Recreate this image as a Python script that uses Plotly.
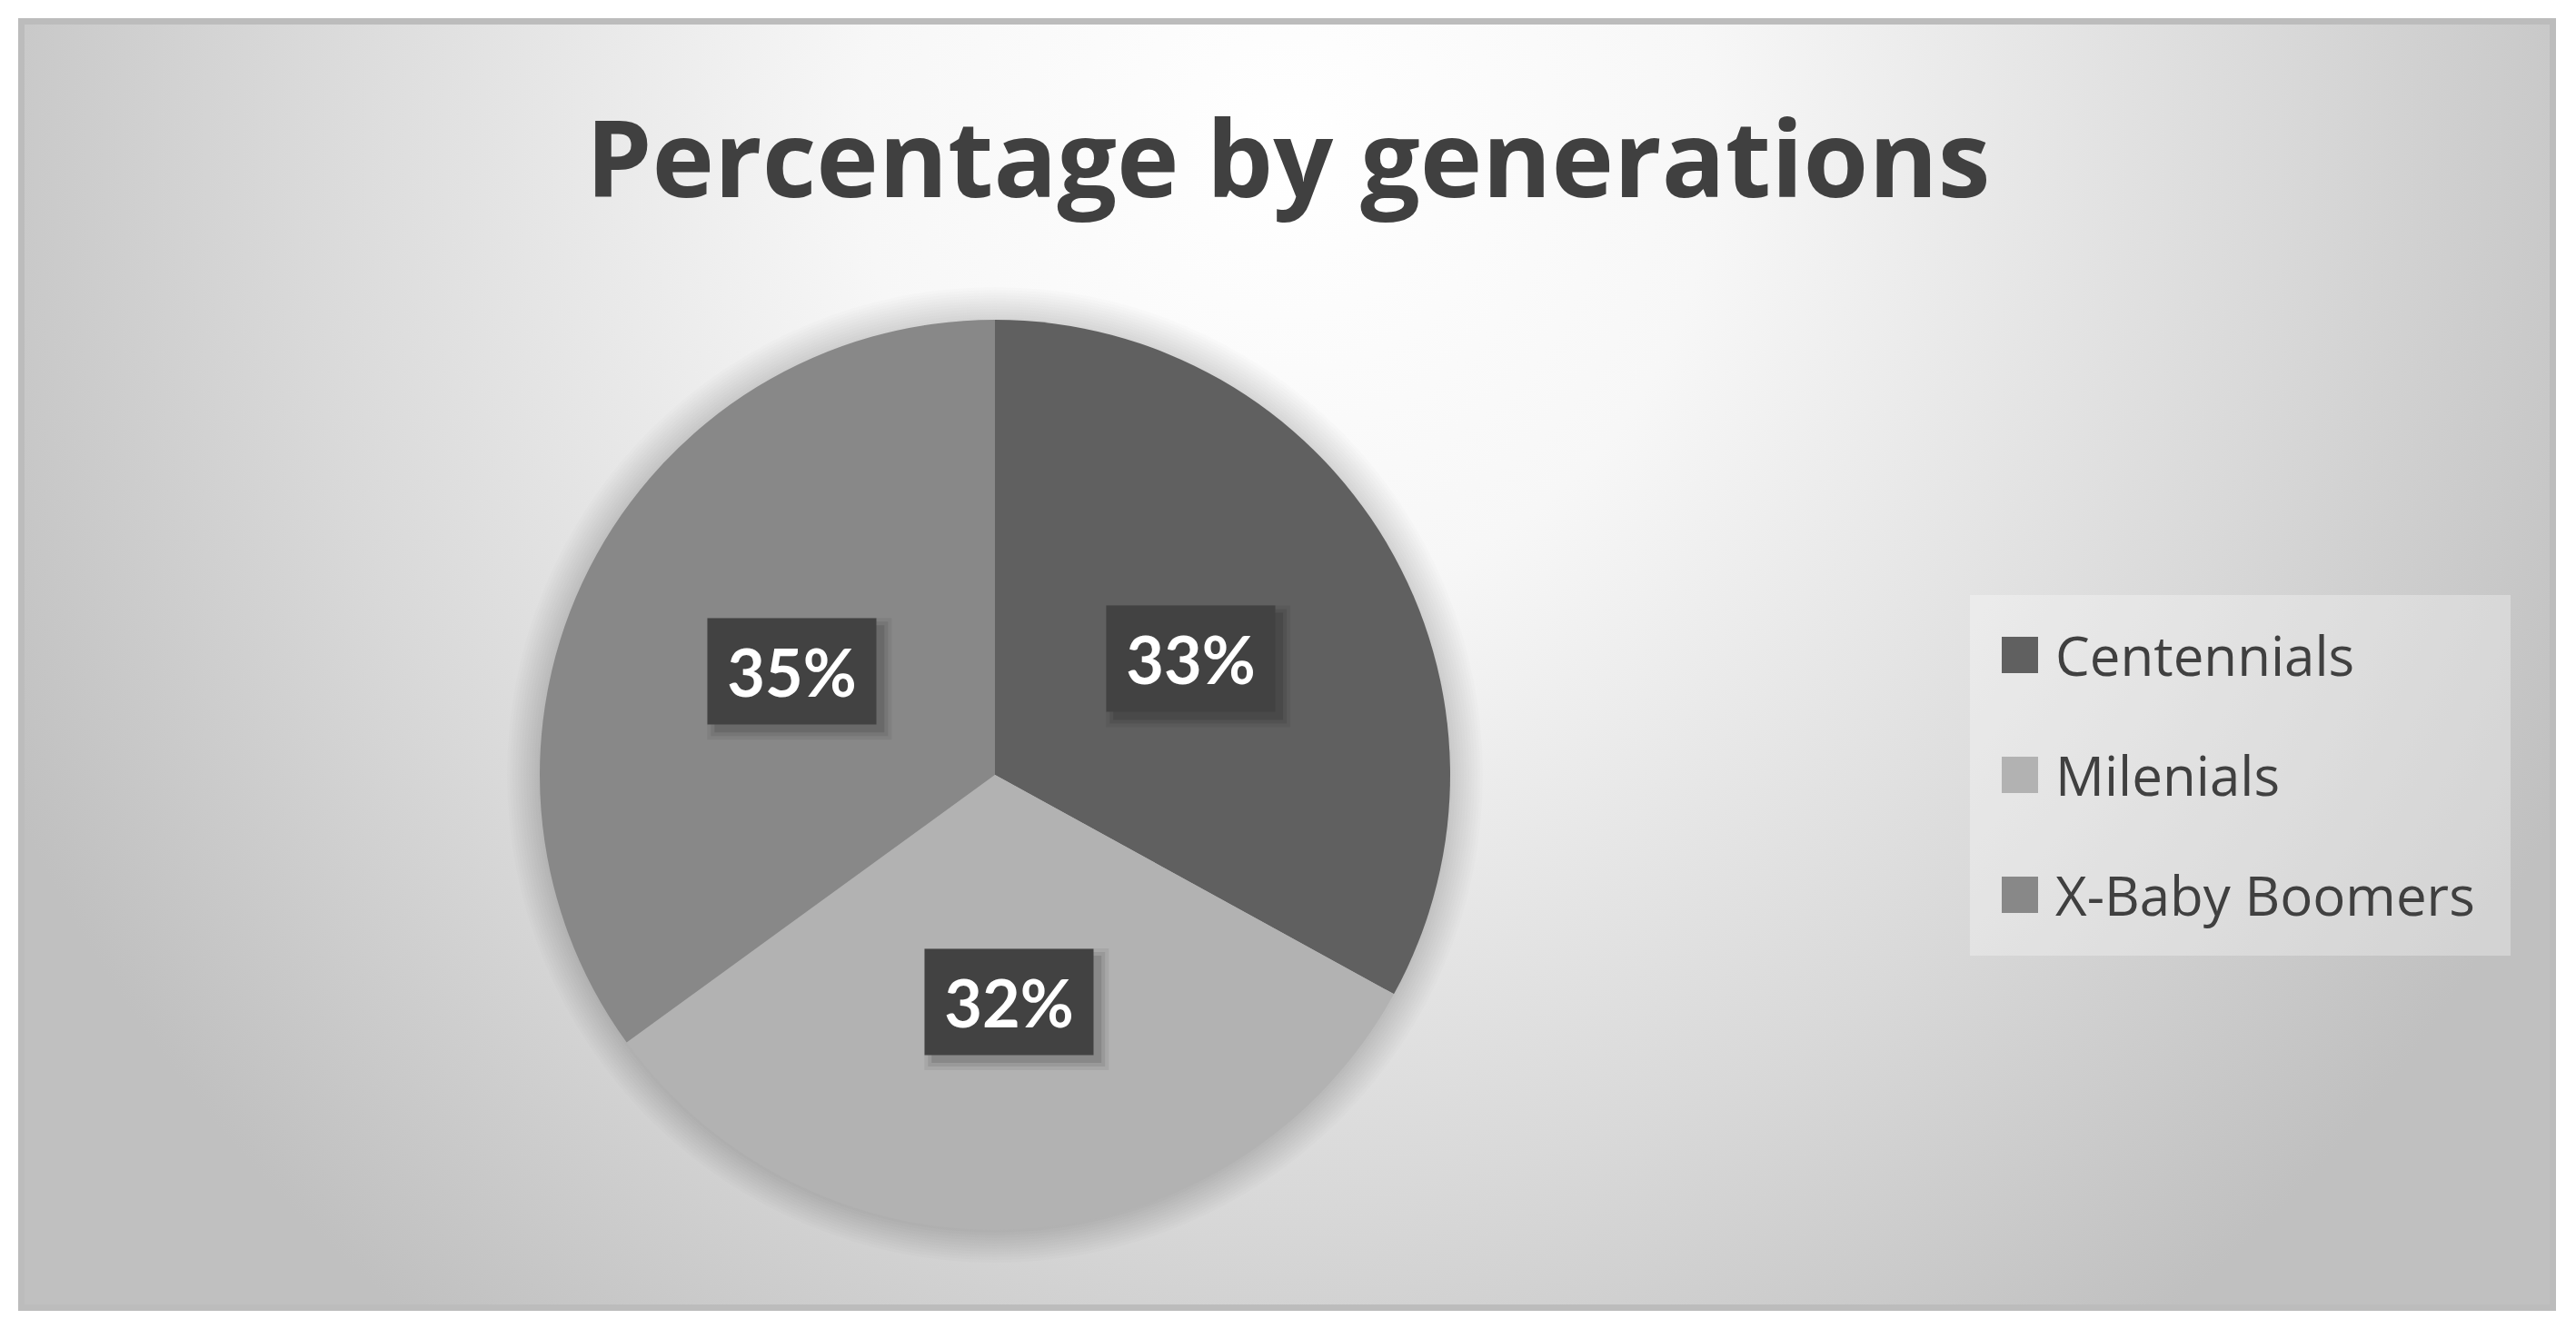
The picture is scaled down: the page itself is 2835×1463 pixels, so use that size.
"""Pie chart: percentage by generations (grey Office-style look)."""

import math
import plotly.graph_objects as go

# ---- data -------------------------------------------------------------
generations = ["Centennials", "Milenials", "X-Baby Boomers"]
shares = [33, 32, 35]
slice_colors = ["#606060", "#b2b2b2", "#888888"]

TITLE = "Percentage by generations"

# ---- page geometry (px) ------------------------------------------------
W, H = 2835, 1463
FRAME = (20, 20, 2813, 1443)          # left, top, right, bottom
PIE_CX, PIE_CY, PIE_R = 1095, 853, 501
LABEL_BOX = (185, 116)
LEGEND_BOX = (2168, 655, 2763, 1052)
LEGEND_SYMBOL_X, LEGEND_TEXT_X = 2203, 2260
LEGEND_ROW0, LEGEND_STEP, LEGEND_SYMBOL = 721, 132, 40

TEXT_DARK = "#404040"
LABEL_FONT = "Lato, 'Open Sans', sans-serif"
TEXT_FONT = "'Open Sans', Lato, sans-serif"


def px_x(px):
    return px / W


def px_y(py):
    return 1 - py / H


fig = go.Figure()

# background: radial grey gradient filling the frame, bright at top centre
fig.add_trace(go.Scatter(
    x=[-0.06, 1.06, 1.06, -0.06, -0.06],
    y=[-0.25, -0.25, 2.05, 2.05, -0.25],
    mode="lines",
    fill="toself",
    line=dict(width=0),
    fillgradient=dict(
        type="radial",
        colorscale=[[0, "#ffffff"], [0.3, "#f7f7f7"], [0.7, "#d9d9d9"], [1, "#c0c0c0"]],
    ),
    hoverinfo="skip",
    showlegend=False,
))

# soft shadow round the pie: stacked translucent discs
for k in range(12, 0, -1):
    r = PIE_R + 3 * k
    fig.add_trace(go.Pie(
        labels=["shadow"],
        values=[sum(shares)],
        marker=dict(colors=["rgba(0,0,0,0.013)"], line=dict(width=0)),
        textinfo="none",
        hoverinfo="skip",
        showlegend=False,
        domain=dict(
            x=[px_x(PIE_CX - r), px_x(PIE_CX + r)],
            y=[px_y(PIE_CY + r), px_y(PIE_CY - r)],
        ),
    ))

fig.add_trace(go.Pie(
    labels=generations,
    values=shares,
    sort=False,
    direction="clockwise",
    rotation=0,
    marker=dict(colors=slice_colors, line=dict(width=0)),
    textinfo="none",
    hovertemplate="%{label}<br>%{percent}<extra></extra>",
    showlegend=False,
    domain=dict(
        x=[px_x(PIE_CX - PIE_R), px_x(PIE_CX + PIE_R)],
        y=[px_y(PIE_CY + PIE_R), px_y(PIE_CY - PIE_R)],
    ),
))

shapes = []
annotations = []

# data labels: dark boxes at half radius on each slice's mid angle
total = sum(shares)
cum = 0
for value in shares:
    mid = (cum + value / 2) / total * 2 * math.pi
    cum += value
    lx = PIE_CX + 0.5 * PIE_R * math.sin(mid)
    ly = PIE_CY - 0.5 * PIE_R * math.cos(mid)
    bw, bh = LABEL_BOX
    for grow, alpha in [(9, 0.06), (5, 0.08), (1, 0.11)]:
        shapes.append(dict(
            type="rect", xref="paper", yref="paper", layer="above",
            x0=px_x(lx - bw / 2 + 8 - grow), x1=px_x(lx + bw / 2 + 8 + grow),
            y0=px_y(ly + bh / 2 + 8 + grow), y1=px_y(ly - bh / 2 + 8 - grow),
            fillcolor=f"rgba(0,0,0,{alpha})", line=dict(width=0),
        ))
    annotations.append(dict(
        x=px_x(lx), y=px_y(ly), xref="paper", yref="paper",
        xanchor="center", yanchor="middle",
        text=f"<b>{round(value / total * 100)}%</b>", showarrow=False,
        font=dict(family=LABEL_FONT, size=72, color="#ffffff"),
        bgcolor="#424242",
        width=bw, height=bh, borderpad=0,
    ))

# legend drawn by hand so the swatches can be as large as in the original
shapes += [
    dict(type="rect", xref="paper", yref="paper",
         x0=px_x(LEGEND_BOX[0]), x1=px_x(LEGEND_BOX[2]),
         y0=px_y(LEGEND_BOX[3]), y1=px_y(LEGEND_BOX[1]),
         fillcolor="rgba(255,255,255,0.3)", line=dict(width=0), layer="above"),
    dict(type="rect", xref="paper", yref="paper",
         x0=px_x(FRAME[0] + 3.5), x1=px_x(FRAME[2] - 3.5),
         y0=px_y(FRAME[3] - 3.5), y1=px_y(FRAME[1] + 3.5),
         line=dict(color="#bcbcbc", width=7), layer="above"),
]
for i, (name, color) in enumerate(zip(generations, slice_colors)):
    yc = LEGEND_ROW0 + i * LEGEND_STEP
    shapes.append(dict(
        type="rect", xref="paper", yref="paper",
        x0=px_x(LEGEND_SYMBOL_X), x1=px_x(LEGEND_SYMBOL_X + LEGEND_SYMBOL),
        y0=px_y(yc + LEGEND_SYMBOL / 2), y1=px_y(yc - LEGEND_SYMBOL / 2),
        fillcolor=color, line=dict(width=0), layer="above",
    ))
    annotations.append(dict(
        x=px_x(LEGEND_TEXT_X), y=px_y(yc), xref="paper", yref="paper",
        xanchor="left", yanchor="middle", text=name, showarrow=False,
        font=dict(family=TEXT_FONT, size=60, color=TEXT_DARK),
    ))

fig.update_layout(
    width=W,
    height=H,
    paper_bgcolor="#ffffff",
    plot_bgcolor="rgba(0,0,0,0)",
    margin=dict(l=0, r=0, t=0, b=0),
    font=dict(family=TEXT_FONT, color=TEXT_DARK),
    title=dict(
        text=f"<b>{TITLE}</b>",
        x=0.5, xanchor="center",
        y=px_y(176), yanchor="middle",
        font=dict(family=TEXT_FONT, size=116, color=TEXT_DARK),
    ),
    xaxis=dict(domain=[px_x(FRAME[0]), px_x(FRAME[2])], range=[0, 1],
               visible=False, fixedrange=True),
    yaxis=dict(domain=[px_y(FRAME[3]), px_y(FRAME[1])], range=[0, 1],
               visible=False, fixedrange=True),
    shapes=shapes,
    annotations=annotations,
    showlegend=False,
)

fig.write_html(
    "out.html",
    config={"displayModeBar": False},
    post_script="document.body.style.margin = '0';",
)
